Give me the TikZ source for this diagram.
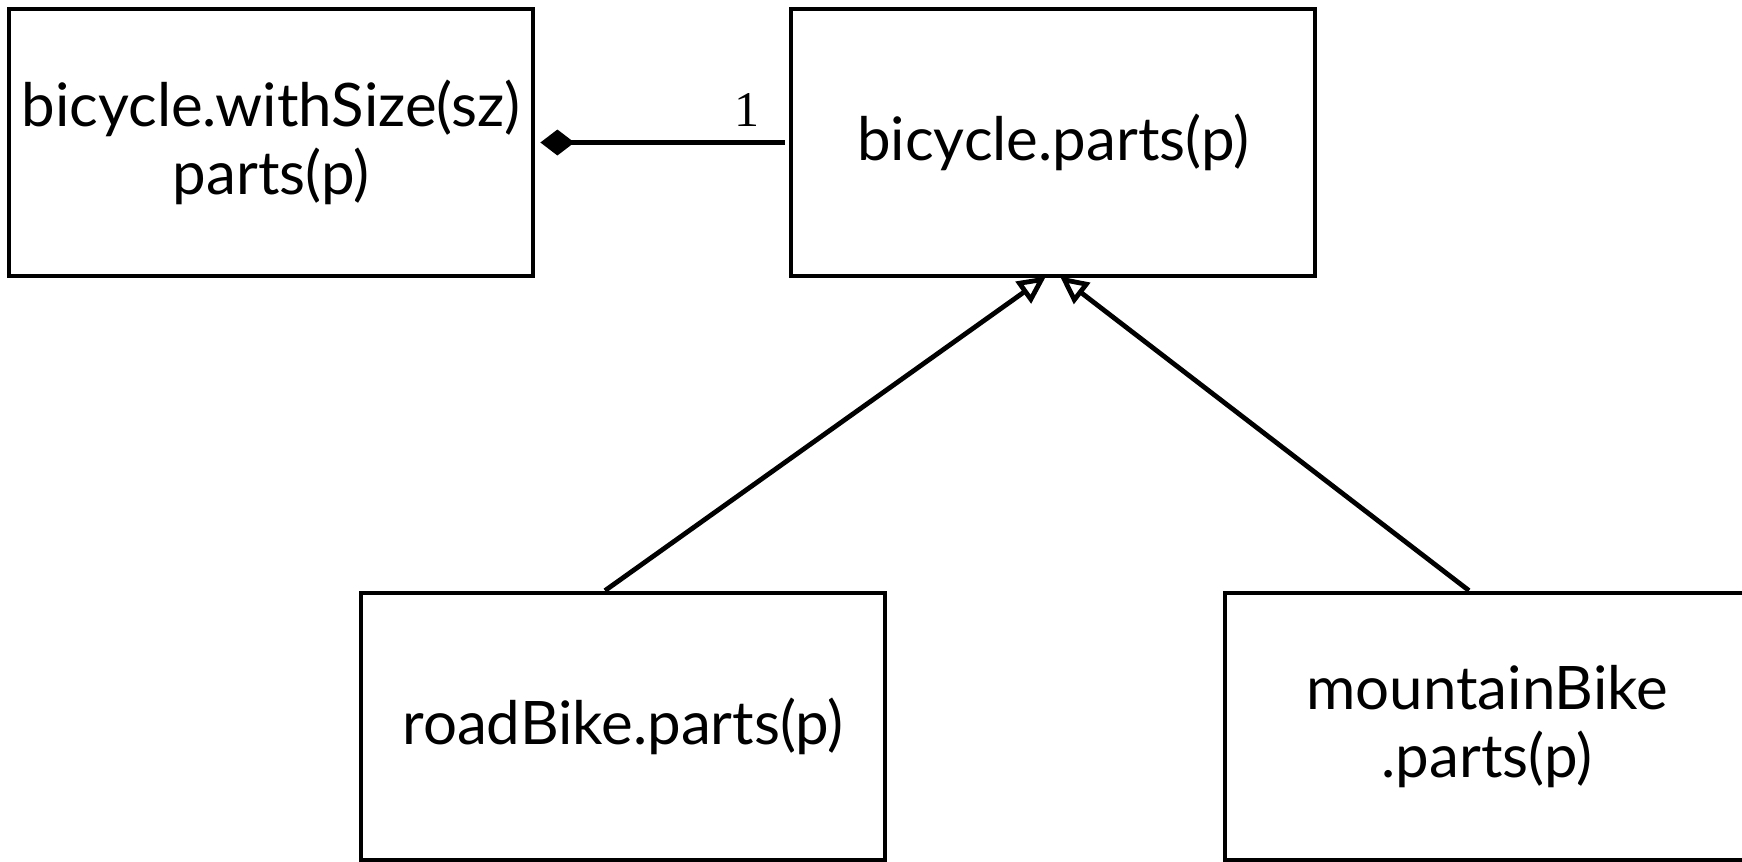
\documentclass[tikz,border=0pt]{standalone}
\usepackage{fontspec}
\setmainfont{Lato}
\newfontfamily\multfont{Liberation Serif}
\usetikzlibrary{arrows.meta}

\begin{document}
\begin{tikzpicture}[x=0.5pt,y=0.5pt,yscale=-1,xscale=1,
  classbox/.style={draw, line width=2.4pt, minimum width=262pt, minimum height=133.5pt,
    inner sep=0pt, align=center, font=\fontsize{30}{34}\selectfont},
  umlline/.style={line width=2.4pt}]
\useasboundingbox (0,0) rectangle (1742,862);

% Class Nodes
\node [classbox] (withsize) at (271,142.5) {bicycle.withSize(sz)\\parts(p)};
\node [classbox] (parts) at (1053,142.5) {bicycle.parts(p)};
\node [classbox] (road) at (623,726.5) {roadBike.parts(p)};
\node [classbox] (mountain) at (1487,726.5) {mountainBike\\.parts(p)};

% Composition
\draw [umlline, -{Diamond[length=17pt,width=13pt]}] ([xshift=-2pt]parts.west) -- ([xshift=2.5pt]withsize.east);
% Text Node
\node [inner sep=0pt, font=\multfont\fontsize{25}{25}\selectfont] (mult) at (747,110) {1};

% Generalization
\draw [umlline, -{Triangle[open,length=14pt,width=13pt]}] ([xshift=-9pt]road.north) -- ([xshift=-3.5pt,yshift=-1pt]parts.south);
\draw [umlline, -{Triangle[open,length=14pt,width=13pt]}] ([xshift=-9pt]mountain.north) -- ([xshift=3.5pt,yshift=-1pt]parts.south);

\end{tikzpicture}
\end{document}
